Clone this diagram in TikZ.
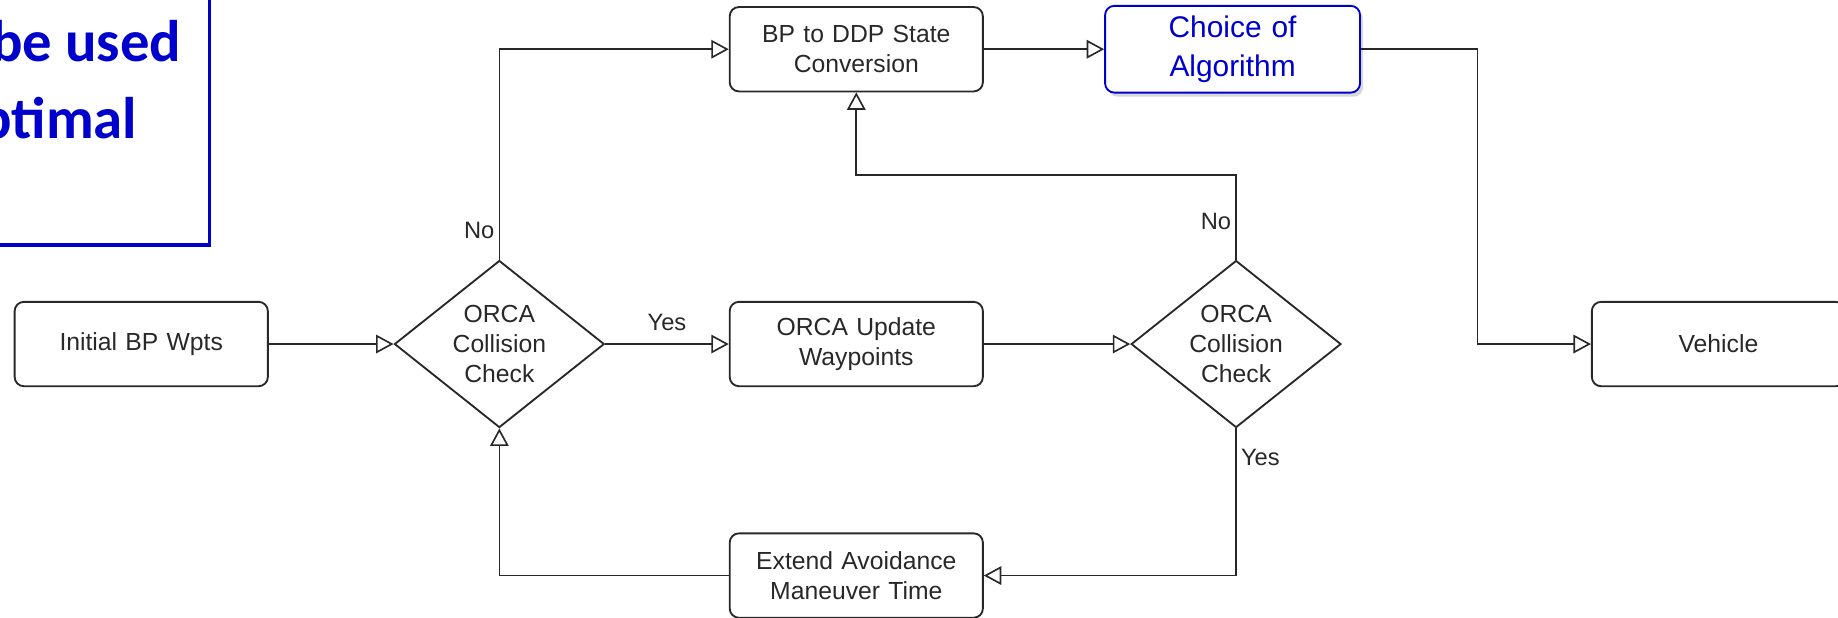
\documentclass[tikz,border=0pt]{standalone}
\usepackage{fontspec}
\setmainfont{Liberation Sans}
\newfontfamily\notefont{Carlito}
\usetikzlibrary{positioning, shapes.geometric, arrows.meta, shadows}
\definecolor{noteblue}{RGB}{0,0,204}
\definecolor{linegray}{RGB}{40,40,40}
\tikzset{
	block/.style={
		rectangle,
		draw=linegray,
		line width=0.9pt,
		text width=4cm,
		align=center,
		minimum width=4.32cm,
		minimum height=1.44cm,
		rounded corners=4.5pt,
		text=linegray,
		font=\fontsize{12}{14.8}\selectfont,
	},
	choice/.style={
		block,
		draw=noteblue,
		text=noteblue,
		minimum width=4.35cm,
		minimum height=1.48cm,
		fill=white,
		drop shadow={shadow xshift=1.5pt, shadow yshift=-2pt, opacity=0.3},
		font=\fontsize{14.5}{18.5}\selectfont,
	},
	decision/.style={
		draw=linegray,
		shape=diamond,
		line width=0.9pt,
		aspect=1.26,
		inner sep=0pt,
		align=center,
		minimum width=3.58cm,
		minimum height=2.85cm,
		text=linegray,
		font=\fontsize{12}{14.5}\selectfont,
	},
	ann/.style={
		text=linegray,
		inner sep=2pt,
		font=\fontsize{11.5}{14}\selectfont,
	},
	flow/.style={
		draw=linegray,
		line width=0.8pt,
	},
	notetext/.style={
		anchor=base west,
		inner sep=0pt,
		text=noteblue,
		font=\notefont\bfseries\fontsize{28.5}{34}\selectfont,
	},
}

\begin{document}
\begin{tikzpicture}[node distance=2cm, >={Triangle[open, length=8.5pt, width=9pt]}]
		\clip (0,0) rectangle (31.36,-10.54);
		% note box cut by the frame
		\draw [noteblue, line width=1.5pt] (-1,1) rectangle (3.58,-4.18);
		\node [notetext] (note1) at (-0.16,-1.05) {be used};
		\node [notetext] (note2) at (-0.34,-2.36) {ptimal};

		\node [block] (init) at (2.41,-5.87) {Initial BP Wpts};
		\node [decision, right of = init, node distance=6.11cm] (chk1) {ORCA\\Collision\\Check};
		\node [block, right of = chk1, node distance=6.09cm] (upd) {ORCA Update\\Waypoints};
		\node [decision, right of = upd, node distance=6.48cm] (chk2) {ORCA\\Collision\\Check};
		\node [block, right of = chk2, node distance=8.23cm] (veh) {Vehicle};
		\node [block, above of = upd, node distance=5.03cm] (conv) {BP to DDP State\\Conversion};
		\node [choice, right of = conv, node distance=6.42cm] (algo) {Choice of\\Algorithm};
		\node [block, below of = upd, node distance=3.95cm] (ext) {Extend Avoidance\\Maneuver Time};

		\draw [flow, ->] (init) to (chk1);
		\draw [flow, ->] (chk1) to node [ann, above=4pt] (yes1) {Yes} (upd);
		\draw [flow, ->] (upd) to (chk2);
		\draw [flow, ->] (chk1.north) |- node [ann, left, pos=0.07] (no1) {No} (conv.west);
		\draw [flow, ->] (conv) to (algo);
		\draw [flow, ->] (algo.east) -- ++(1.99,0) |- (veh.west);
		\draw [flow, ->] (chk2.north) -- node [ann, left, pos=0.45] (no2) {No} ++(0,1.44) -| (conv.south);
		\draw [flow, ->] (chk2.south) |- node [ann, right, pos=0.1] (yes2) {Yes} (ext.east);
		\draw [flow, ->] (ext.west) -| (chk1.south);
	\end{tikzpicture}
\end{document}
